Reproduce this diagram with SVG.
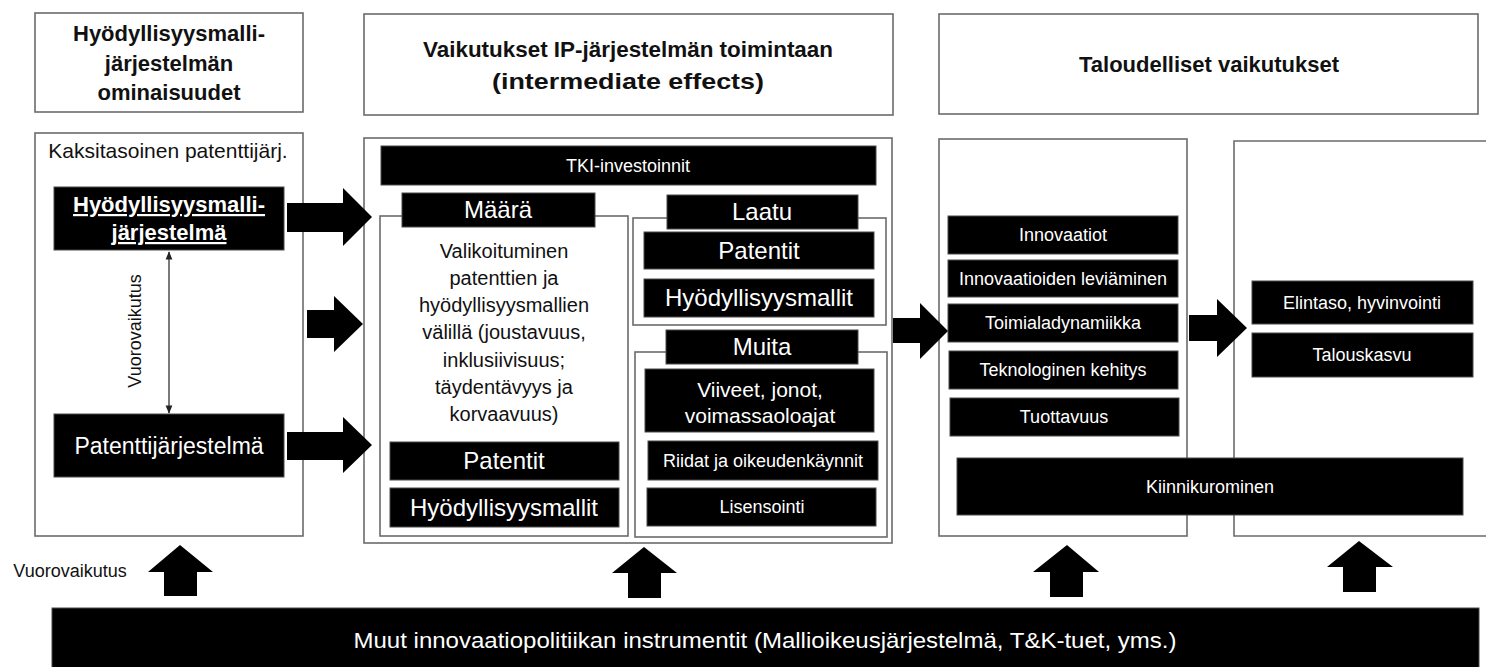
<svg xmlns="http://www.w3.org/2000/svg" width="1486" height="667" viewBox="0 0 1486 667">
<style>
.frame{fill:#fff;stroke:#6b6b6b;stroke-width:1.6}
.open{fill:none;stroke:#6b6b6b;stroke-width:1.6}
.blk{fill:#000;stroke:#4a4a4a;stroke-width:1}
.t{font-family:"Liberation Sans",Arial,sans-serif;text-anchor:middle;fill:#111}
.w{fill:#fff}
.b{font-weight:bold}
.h{font-size:22px;font-weight:bold}
.s18{font-size:18px}
.s20{font-size:20px}
.s21{font-size:21px}
.s22{font-size:22px}
.s23{font-size:23px}
.s24{font-size:24px}
.arr{fill:#000}
</style>
<defs>
<marker id="ah" viewBox="0 0 10 10" refX="9" refY="5" markerWidth="7" markerHeight="7" orient="auto-start-reverse">
<path d="M0,1 L10,5 L0,9 z" fill="#222"/>
</marker>
</defs>
<rect width="1486" height="667" fill="#fff"/>

<!-- Headers -->
<g id="header1">
<rect class="frame" x="35" y="13" width="268" height="99"/>
<text class="t h" x="169" y="41">Hyödyllisyysmalli-</text>
<text class="t h" x="169" y="71">järjestelmän</text>
<text class="t h" x="169" y="100">ominaisuudet</text>
</g>
<g id="header2">
<rect class="frame" x="364" y="14" width="529" height="101"/>
<text class="t h" x="628" y="57" textLength="410" lengthAdjust="spacingAndGlyphs">Vaikutukset IP-järjestelmän toimintaan</text>
<text class="t h" x="628" y="89" textLength="272" lengthAdjust="spacingAndGlyphs">(intermediate effects)</text>
</g>
<g id="header3">
<rect class="frame" x="939" y="14" width="539" height="100"/>
<text class="t h" x="1209" y="72">Taloudelliset vaikutukset</text>
</g>

<!-- Left panel -->
<g id="panel-left">
<rect class="frame" x="35" y="133" width="268" height="403"/>
<text class="t s21" x="168" y="158">Kaksitasoinen patenttijärj.</text>
</g>
<g id="node-hyodyllisyysmallijarjestelma">
<rect class="blk" x="54" y="187" width="230" height="63"/>
<text class="t w b s22" x="169" y="212" text-decoration="underline">Hyödyllisyysmalli-</text>
<text class="t w b s22" x="169" y="240" text-decoration="underline">järjestelmä</text>
</g>
<g id="node-patenttijarjestelma">
<rect class="blk" x="54" y="414" width="230" height="63"/>
<text class="t w s23" x="169" y="454">Patenttijärjestelmä</text>
</g>
<g id="label-vuorovaikutus-v">
<text class="t s18" x="0" y="0" transform="translate(141,331) rotate(-90)">Vuorovaikutus</text>
</g>

<!-- Middle panel -->
<g id="panel-middle">
<rect class="frame" x="364" y="138" width="528" height="405"/>
</g>
<g id="node-tki">
<rect class="blk" x="381" y="146" width="495" height="39"/>
<text class="t w s18" x="628" y="172">TKI-investoinnit</text>
</g>
<g id="group-maara">
<rect class="frame" x="380" y="216" width="248" height="320"/>
<rect class="blk" x="402" y="193" width="193" height="34"/>
<text class="t w s24" x="498" y="218">Määrä</text>
<text class="t s20" x="504" y="258">Valikoituminen</text>
<text class="t s20" x="504" y="285">patenttien ja</text>
<text class="t s20" x="504" y="312">hyödyllisyysmallien</text>
<text class="t s20" x="504" y="339">välillä (joustavuus,</text>
<text class="t s20" x="504" y="367">inklusiivisuus;</text>
<text class="t s20" x="504" y="394">täydentävyys ja</text>
<text class="t s20" x="504" y="421">korvaavuus)</text>
</g>
<g id="node-maara-patentit">
<rect class="blk" x="390" y="442" width="229" height="38"/>
<text class="t w s24" x="504" y="469">Patentit</text>
</g>
<g id="node-maara-hyodyllisyysmallit">
<rect class="blk" x="390" y="488" width="229" height="39"/>
<text class="t w s24" x="504" y="516">Hyödyllisyysmallit</text>
</g>
<g id="group-laatu">
<rect class="frame" x="633" y="218" width="253" height="107"/>
<rect class="blk" x="667" y="195" width="191" height="34"/>
<text class="t w s24" x="762" y="220">Laatu</text>
</g>
<g id="node-laatu-patentit">
<rect class="blk" x="644" y="232" width="230" height="37"/>
<text class="t w s24" x="759" y="259">Patentit</text>
</g>
<g id="node-laatu-hyodyllisyysmallit">
<rect class="blk" x="644" y="279" width="230" height="38"/>
<text class="t w s24" x="759" y="306">Hyödyllisyysmallit</text>
</g>
<g id="group-muita">
<rect class="frame" x="635" y="352" width="252" height="185"/>
<rect class="blk" x="666" y="330" width="192" height="34"/>
<text class="t w s24" x="762" y="355">Muita</text>
</g>
<g id="node-viiveet">
<rect class="blk" x="645" y="369" width="229" height="63"/>
<text class="t w s21" x="760" y="397">Viiveet, jonot,</text>
<text class="t w s21" x="760" y="423">voimassaoloajat</text>
</g>
<g id="node-riidat">
<rect class="blk" x="648" y="441" width="230" height="39"/>
<text class="t w s18" x="763" y="467">Riidat ja oikeudenkäynnit</text>
</g>
<g id="node-lisensointi">
<rect class="blk" x="647" y="488" width="229" height="38"/>
<text class="t w s18" x="762" y="513">Lisensointi</text>
</g>

<!-- Panel 3 -->
<g id="panel-3">
<rect class="frame" x="939" y="139" width="248" height="397"/>
</g>
<g id="node-innovaatiot">
<rect class="blk" x="948" y="216" width="230" height="38"/>
<text class="t w s18" x="1063" y="241">Innovaatiot</text>
</g>
<g id="node-leviaminen">
<rect class="blk" x="948" y="260" width="230" height="37"/>
<text class="t w s18" x="1063" y="285">Innovaatioiden leviäminen</text>
</g>
<g id="node-toimiala">
<rect class="blk" x="948" y="304" width="230" height="38"/>
<text class="t w s18" x="1063" y="329">Toimialadynamiikka</text>
</g>
<g id="node-teknologinen">
<rect class="blk" x="949" y="351" width="229" height="38"/>
<text class="t w s18" x="1063" y="376">Teknologinen kehitys</text>
</g>
<g id="node-tuottavuus">
<rect class="blk" x="950" y="398" width="229" height="38"/>
<text class="t w s18" x="1064" y="423">Tuottavuus</text>
</g>

<!-- Panel 4 -->
<g id="panel-4">
<path class="open" d="M1486,141 H1234 V536 H1486"/>
</g>
<g id="node-elintaso">
<rect class="blk" x="1252" y="281" width="221" height="43"/>
<text class="t w s18" x="1362" y="309">Elintaso, hyvinvointi</text>
</g>
<g id="node-talouskasvu">
<rect class="blk" x="1252" y="333" width="221" height="44"/>
<text class="t w s18" x="1362" y="361">Talouskasvu</text>
</g>
<g id="node-kiinnikurominen">
<rect class="blk" x="957" y="458" width="506" height="57"/>
<text class="t w s18" x="1210" y="493">Kiinnikurominen</text>
</g>

<!-- Bottom bar -->
<g id="node-muut">
<rect class="blk" x="52" y="608" width="1427" height="62"/>
<text class="t w s22" x="765" y="648" textLength="823" lengthAdjust="spacingAndGlyphs">Muut innovaatiopolitiikan instrumentit (Mallioikeusjärjestelmä, T&amp;K-tuet, yms.)</text>
</g>
<g id="label-vuorovaikutus-h">
<text class="t s18" x="70" y="577">Vuorovaikutus</text>
</g>

<!-- Connectors -->
<g id="connectors">
<line x1="169" y1="252" x2="169" y2="413" stroke="#222" stroke-width="1.2" marker-start="url(#ah)" marker-end="url(#ah)"/>
<polygon class="arr" points="287,203 343,203 343,188 372,217 343,246 343,232 287,232"/>
<polygon class="arr" points="307,310 334,310 334,296 363,324 334,352 334,338 307,338"/>
<polygon class="arr" points="287,432 343,432 343,417 372,445 343,473 343,460 287,460"/>
<polygon class="arr" points="893,318 920,318 920,303 948,331 920,359 920,343 893,343"/>
<polygon class="arr" points="1189,315 1217,315 1217,299 1247,328 1217,357 1217,341 1189,341"/>
<polygon class="arr" points="180,545 213,572 197,572 197,596 164,596 164,572 148,572"/>
<polygon class="arr" points="644,547 677,573 661,573 661,598 628,598 628,573 612,573"/>
<polygon class="arr" points="1067,545 1099,572 1083,572 1083,597 1050,597 1050,572 1033,572"/>
<polygon class="arr" points="1359,541 1393,567 1376,567 1376,592 1343,592 1343,567 1327,567"/>
</g>
</svg>
